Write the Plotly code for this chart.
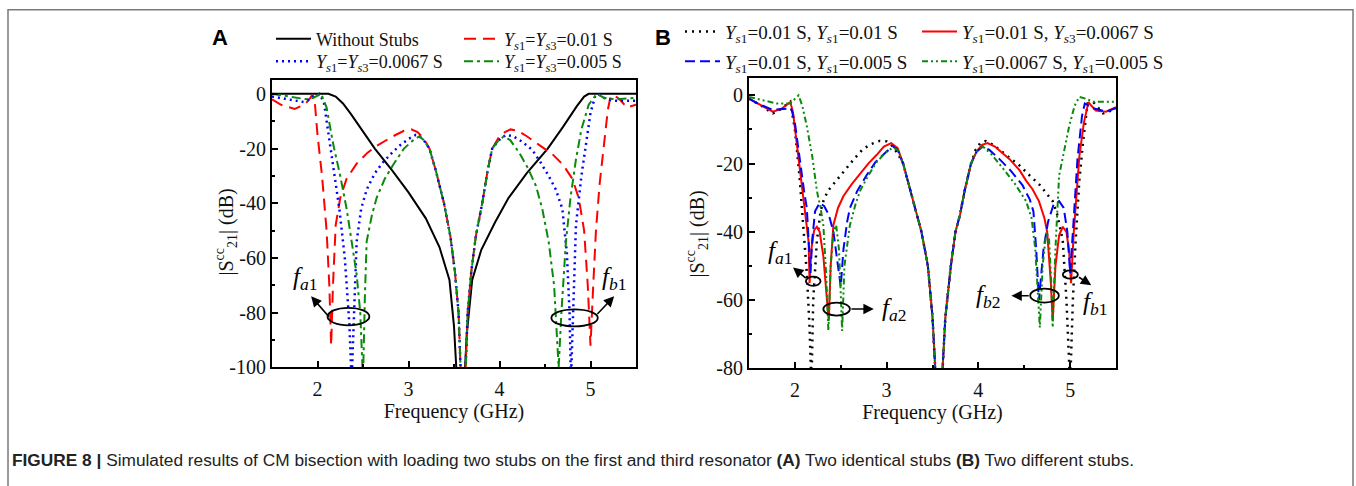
import plotly.graph_objects as go

# ---------------- Panel A data (Frequency GHz, |S21cc| dB) ----------------
a_center_f = [3.23, 3.30, 3.39, 3.46, 3.51, 3.55, 3.60, 3.65, 3.69, 3.74, 3.81, 3.87, 3.92]
a_center_db = [-20, -28, -40, -52, -65, -80, -125, -80, -65, -52, -40, -28, -20]

a_none_f = [1.5, 2.12, 2.2, 2.28, 2.37, 2.46, 2.63, 2.82, 3.0, 3.19, 3.34, 3.45, 3.5, 3.575,
            3.64, 3.7, 3.8, 3.95, 4.1, 4.3, 4.53, 4.7, 4.85, 4.93, 4.98, 5.5]
a_none_db = [0, 0, -1, -3.5, -7.5, -12, -20, -28, -36, -45.5, -56, -68, -85, -130,
             -88, -68, -57, -47, -38, -29, -20, -12, -4.5, -1, 0, 0]

a_r_left_f = [1.5, 1.6, 1.75, 1.85, 1.9, 1.94, 1.97, 2.0, 2.05, 2.1, 2.13, 2.15, 2.17, 2.2,
              2.25, 2.32, 2.43, 2.55, 2.65, 2.75, 2.83, 2.95, 3.03, 3.1, 3.16]
a_r_left_db = [-2, -4, -5.5, -4, -2.5, -0.5, -3, -15, -30, -50, -70, -92, -70, -48,
               -38, -31, -25.5, -21.5, -19, -17, -15.5, -13.5, -13, -14, -16]
a_r_right_f = [3.99, 4.06, 4.12, 4.2, 4.3, 4.45, 4.58, 4.7, 4.8, 4.87, 4.93, 4.97, 5.0,
               5.03, 5.06, 5.1, 5.15, 5.19, 5.22, 5.26, 5.32, 5.4, 5.5]
a_r_right_db = [-16, -14, -13, -13.5, -15.5, -19, -22, -26, -31, -38, -50, -70, -92,
                -70, -50, -33, -18, -6, -1, -0.5, -2, -5, -4]

a_b_left_f = [1.5, 1.7, 1.85, 1.95, 2.02, 2.07, 2.12, 2.18, 2.24, 2.3, 2.35, 2.375, 2.4,
              2.43, 2.48, 2.54, 2.63, 2.72, 2.82, 2.9, 3.0, 3.08, 3.12, 3.18]
a_b_left_db = [-1, -2, -3, -1, 0, -3, -15, -28, -42, -60, -84, -105, -80,
               -54, -42, -35, -29, -25, -21.5, -19, -16.5, -15, -15.5, -17.5]
a_b_right_f = [3.99, 4.07, 4.15, 4.25, 4.36, 4.45, 4.54, 4.62, 4.69, 4.74, 4.77, 4.785,
               4.81, 4.84, 4.9, 4.95, 5.0, 5.05, 5.08, 5.15, 5.25, 5.5]
a_b_right_db = [-17, -15, -15.5, -17.5, -20.5, -25, -30, -35, -42, -58, -80, -105,
                -80, -48, -30, -18, -7, -1, 0, -1.5, -2.5, -2.5]

a_g_left_f = [1.5, 1.7, 1.88, 1.95, 2.04, 2.1, 2.17, 2.25, 2.32, 2.38, 2.43, 2.47, 2.5,
              2.52, 2.54, 2.6, 2.65, 2.74, 2.83, 2.95, 3.05, 3.12, 3.17]
a_g_left_db = [0, -1, -2, -1.5, 0, -5, -18, -30, -42, -55, -66, -80, -105,
               -75, -54, -44, -38, -31, -26, -20, -17, -15.5, -17]
a_g_right_f = [3.99, 4.05, 4.12, 4.22, 4.31, 4.4, 4.47, 4.54, 4.6, 4.65, 4.68, 4.73,
               4.78, 4.84, 4.9, 4.98, 5.07, 5.15, 5.27, 5.5]
a_g_right_db = [-17, -15.5, -17, -21.7, -27, -33.6, -42, -54, -70, -100, -80, -54,
                -38, -24, -13, -4, 0, -1.5, -2, -1.5]

# ---------------- Panel B data ----------------
b_center_f = [3.18, 3.26, 3.33, 3.38, 3.45, 3.5, 3.53, 3.57, 3.61, 3.64, 3.7, 3.75, 3.8, 3.85, 3.92]
b_center_db = [-20, -28, -35, -40, -50, -65, -80, -100, -80, -65, -50, -40, -35, -28, -20]

b_k_left_f = [1.5, 1.6, 1.76, 1.85, 1.95, 2.0, 2.05, 2.1, 2.13, 2.16, 2.18, 2.2, 2.24, 2.28,
              2.31, 2.36, 2.42, 2.5, 2.56, 2.65, 2.74, 2.83, 2.92, 3.0, 3.05, 3.12]
b_k_left_db = [-1, -2.5, -5.3, -4, -1.9, -10, -23.5, -40, -52, -68, -85, -60, -42.6, -34,
               -31, -28, -26, -23.5, -21.5, -18.5, -15.8, -14.3, -13.4, -13.5, -14.5, -17]
b_k_right_f = [3.97, 4.02, 4.08, 4.16, 4.3, 4.45, 4.56, 4.67, 4.75, 4.81, 4.86, 4.92, 4.96,
               5.0, 5.03, 5.06, 5.1, 5.14, 5.19, 5.25, 5.3, 5.36, 5.45, 5.5]
b_k_right_db = [-16, -14, -13.4, -14.5, -17.5, -20.6, -23.5, -26.3, -29, -31, -35, -42.6, -60,
                -85, -60, -42.6, -25, -13.9, -2.4, -1.9, -3.5, -5.3, -4.5, -3.8]

b_r_left_f = [1.5, 1.6, 1.76, 1.85, 1.92, 1.95, 1.98, 2.02, 2.06, 2.09, 2.12, 2.15, 2.16,
              2.18, 2.21, 2.24, 2.27, 2.31, 2.35, 2.37, 2.39, 2.42, 2.47, 2.53, 2.62, 2.71,
              2.8, 2.89, 2.97, 3.05, 3.12]
b_r_left_db = [-1, -2.5, -4.8, -4, -2.5, -2, -5, -14, -22, -28, -35, -43, -55,
               -45, -39.5, -38.5, -40, -47, -60, -66, -50, -38, -33, -29.5, -26, -23,
               -20, -17.5, -15, -14, -15.5]
b_r_right_f = [3.98, 4.04, 4.1, 4.18, 4.27, 4.34, 4.45, 4.52, 4.59, 4.66, 4.72, 4.75, 4.79,
               4.81, 4.84, 4.88, 4.92, 4.96, 4.99, 5.01, 5.04, 5.07, 5.1, 5.15, 5.2, 5.23,
               5.28, 5.39, 5.5]
b_r_right_db = [-16.5, -14.5, -14, -15, -17, -18.7, -22, -25, -27.5, -31, -36, -40, -55,
                -66, -50, -41, -38.5, -40, -46, -55, -40, -28, -18, -8, -2, -3,
                -4.5, -4.8, -3.5]

b_b_left_f = [1.5, 1.6, 1.76, 1.88, 1.96, 2.0, 2.05, 2.1, 2.13, 2.16, 2.17, 2.19, 2.22, 2.27,
              2.32, 2.37, 2.42, 2.46, 2.5, 2.53, 2.57, 2.6, 2.68, 2.78, 2.88, 3.0, 3.07, 3.12]
b_b_left_db = [-1, -2.5, -4.3, -4, -3.8, -8, -18.7, -28, -33, -45, -52, -42, -34, -31.5,
               -32.5, -35, -40, -48, -56, -45, -37, -33, -28, -23.5, -19.5, -16.5, -15, -16]
b_b_right_f = [3.98, 4.05, 4.12, 4.23, 4.35, 4.48, 4.56, 4.6, 4.63, 4.66, 4.71, 4.76, 4.82,
               4.88, 4.93, 4.97, 5.0, 5.03, 5.08, 5.13, 5.16, 5.25, 5.39, 5.5]
b_b_right_db = [-16.5, -15, -16, -18.7, -22, -26.3, -30.5, -34, -45, -60, -45, -37, -32,
                -31, -33, -40, -52, -40, -18.7, -6, -2.4, -3.8, -4.8, -3.8]

b_g_left_f = [1.5, 1.65, 1.8, 1.95, 2.0, 2.04, 2.08, 2.13, 2.19, 2.24, 2.28, 2.31, 2.34,
              2.365, 2.39, 2.42, 2.45, 2.48, 2.5, 2.515, 2.54, 2.6, 2.66, 2.71, 2.8, 2.89,
              3.0, 3.07, 3.12]
b_g_left_db = [-0.5, -1.5, -2.4, -2.4, -1, 0, -3, -9, -18, -28, -33, -38, -52,
               -69, -50, -40, -38, -45, -58, -69, -50, -38, -32, -28, -23.5, -19.6,
               -16.5, -15.3, -16]
b_g_right_f = [3.98, 4.05, 4.15, 4.27, 4.4, 4.52, 4.58, 4.62, 4.65, 4.67, 4.7, 4.74, 4.77,
               4.795, 4.81, 4.84, 4.88, 4.94, 4.99, 5.05, 5.1, 5.17, 5.25, 5.5]
b_g_right_db = [-16.5, -15, -17.5, -21.5, -26, -31, -36, -45, -58, -68, -50, -40, -42,
                -55, -68, -45, -23.5, -15, -9, -3, -0.5, -1, -1.9, -1.9]

# ---------------- Labels ----------------
YS = "<i>Y</i><sub><i>s</i>1</sub>"
YS3 = "<i>Y</i><sub><i>s</i>3</sub>"
a_names = ["Without Stubs", YS + "=" + YS3 + "=0.01 S",
           YS + "=" + YS3 + "=0.0067 S", YS + "=" + YS3 + "=0.005 S"]
b_names = [YS + "=0.01 S, " + YS + "=0.01 S", YS + "=0.01 S, " + YS3 + "=0.0067 S",
           YS + "=0.01 S, " + YS + "=0.005 S", YS + "=0.0067 S, " + YS + "=0.005 S"]
a_ticks_y = [0, -20, -40, -60, -80, -100]
b_ticks_y = [0, -20, -40, -60, -80]
x_ticks = [2, 3, 4, 5]
caption = ("<b>FIGURE 8 |</b> Simulated results of CM bisection with loading two stubs on the first "
           "and third resonator <b>(A)</b> Two identical stubs <b>(B)</b> Two different stubs.")

RED, BLUE, GREEN, BLACK = "#ff0000", "#0000ff", "#0a8a0a", "#000000"
SERIF = "Liberation Serif"

fig = go.Figure()

def add(xs, ys, name, color, dash, xa, ya, leg, grp, w=2):
    fig.add_trace(go.Scatter(x=xs, y=ys, mode="lines", name=name, xaxis=xa, yaxis=ya,
                             legend=leg, legendgroup=grp,
                             line=dict(color=color, dash=dash, width=w)))

# Panel A: one legend per row (two entries each)
add(a_none_f, a_none_db, a_names[0], BLACK, "solid", "x", "y", "legend", "a0")
add(a_r_left_f + a_center_f + a_r_right_f, a_r_left_db + a_center_db + a_r_right_db,
    a_names[1], RED, "12px,7px", "x", "y", "legend", "a1")
add(a_b_left_f + a_center_f + a_b_right_f, a_b_left_db + a_center_db + a_b_right_db,
    a_names[2], BLUE, "2px,4px", "x", "y", "legend2", "a2", 2.5)
add(a_g_left_f + a_center_f + a_g_right_f, a_g_left_db + a_center_db + a_g_right_db,
    a_names[3], GREEN, "9px,4px,3px,4px", "x", "y", "legend2", "a3")

# Panel B: one legend per column (two entries each)
add(b_k_left_f + b_center_f + b_k_right_f, b_k_left_db + b_center_db + b_k_right_db,
    b_names[0], BLACK, "2px,5px", "x2", "y2", "legend3", "b0", 2.5)
add(b_r_left_f + b_center_f + b_r_right_f, b_r_left_db + b_center_db + b_r_right_db,
    b_names[1], RED, "solid", "x2", "y2", "legend4", "b1")
add(b_b_left_f + b_center_f + b_b_right_f, b_b_left_db + b_center_db + b_b_right_db,
    b_names[2], BLUE, "10px,5px", "x2", "y2", "legend3", "b2")
add(b_g_left_f + b_center_f + b_g_right_f, b_g_left_db + b_center_db + b_g_right_db,
    b_names[3], GREEN, "6px,3px,2px,3px,2px,3px", "x2", "y2", "legend4", "b3")

W, H = 1356, 486
def px(v): return v / W
def py(v): return 1 - v / H

axis_common = dict(showline=True, linecolor="black", linewidth=2, mirror=True,
                   ticks="inside", ticklen=6, tickwidth=1.5, tickcolor="black",
                   showgrid=False, zeroline=False,
                   tickfont=dict(family=SERIF, size=20, color="#111"))
xtitle = dict(text="Frequency (GHz)", font=dict(family=SERIF, size=20, color="#111"), standoff=4)

fig.update_layout(
    xaxis=dict(domain=[px(272), px(636)], range=[1.5, 5.5], tickvals=x_ticks,
               ticktext=[str(v) for v in x_ticks], anchor="y", ticklabelstandoff=3,
               minor=dict(ticks="inside", ticklen=3, dtick=0.5, tick0=1.5, tickcolor="black"),
               title=xtitle, **axis_common),
    yaxis=dict(domain=[py(376), py(82)], range=[-100, 5], tickvals=a_ticks_y,
               ticktext=[str(v) for v in a_ticks_y], anchor="x",
               minor=dict(ticks="inside", ticklen=3, dtick=10, tick0=0, tickcolor="black"),
               **axis_common),
    xaxis2=dict(domain=[px(749), px(1116)], range=[1.5, 5.5], tickvals=x_ticks,
                ticktext=[str(v) for v in x_ticks], anchor="y2", ticklabelstandoff=3,
                minor=dict(ticks="inside", ticklen=3, dtick=0.5, tick0=1.5, tickcolor="black"),
                title=xtitle, **axis_common),
    yaxis2=dict(domain=[py(377), py(80)], range=[-80, 5], tickvals=b_ticks_y,
                ticktext=[str(v) for v in b_ticks_y], anchor="x2",
                minor=dict(ticks="inside", ticklen=3, dtick=10, tick0=0, tickcolor="black"),
                **axis_common),
    width=W, height=H, margin=dict(l=0, r=0, t=0, b=0),
    plot_bgcolor="white", paper_bgcolor="white",
    font=dict(family=SERIF, color="#111"),
)

fa = dict(family=SERIF, size=18, color="#111")
fb = dict(family=SERIF, size=19, color="#111")
leg_h = dict(orientation="h", xanchor="left", yanchor="middle", bgcolor="rgba(0,0,0,0)",
             itemwidth=35, entrywidthmode="pixels", traceorder="normal")
leg_v = dict(orientation="v", xanchor="left", yanchor="top", bgcolor="rgba(0,0,0,0)",
             itemwidth=35, traceorder="grouped", tracegroupgap=2)
fig.update_layout(
    legend=dict(x=px(271), y=py(40), entrywidth=138, font=fa, **leg_h),
    legend2=dict(x=px(271), y=py(63), entrywidth=138, font=fa, **leg_h),
    legend3=dict(x=px(680), y=py(13), font=fb, **leg_v),
    legend4=dict(x=px(917), y=py(13), font=fb, **leg_v),
)

ann = []
# y axis titles
for xc, yc in [(226, 238), (697, 240)]:
    ann.append(dict(text="|S<sup>cc</sup><sub>21</sub>| (dB)", textangle=-90, x=px(xc), y=py(yc),
                    xref="paper", yref="paper", xanchor="center", yanchor="middle", showarrow=False,
                    font=dict(family=SERIF, size=20, color="#111")))
# panel letters
for t, xc in [("A", 220), ("B", 663)]:
    ann.append(dict(text="<b>" + t + "</b>", x=px(xc), y=py(38), xref="paper", yref="paper",
                    xanchor="center", yanchor="middle", showarrow=False,
                    font=dict(family="Liberation Sans", size=22, color="black")))
# caption
ann.append(dict(text=caption, x=px(10), y=py(471), xref="paper", yref="paper", xanchor="left",
                yanchor="middle", showarrow=False,
                font=dict(family="Liberation Sans", size=17.3, color="#222")))

# ellipse markers, arrows and labels
def fl(sub):
    return "<i>f</i><sub><i>" + sub[0] + "</i>" + sub[1] + "</sub>"

shapes = []
def ell(xr, yr, x0, x1, y0, y1):
    shapes.append(dict(type="circle", xref=xr, yref=yr, x0=x0, x1=x1, y0=y0, y1=y1,
                       line=dict(color="black", width=1.8)))

def arrow(xr, yr, hx, hy, tx, ty):
    ann.append(dict(x=hx, y=hy, ax=tx, ay=ty, xref=xr, yref=yr, axref=xr, ayref=yr, text="",
                    showarrow=True, arrowhead=2, arrowsize=1.3, arrowwidth=1.6, arrowcolor="black",
                    standoff=0, startstandoff=0))

def label(xr, yr, x, y, sub):
    ann.append(dict(x=x, y=y, xref=xr, yref=yr, text=fl(sub), showarrow=False,
                    xanchor="center", yanchor="middle",
                    font=dict(family=SERIF, size=25, color="black")))

# Panel A
ell("x", "y", 2.11, 2.57, -84.6, -78.2)
arrow("x", "y", 1.93, -74, 2.14, -82)
label("x", "y", 1.86, -67.5, "a1")
ell("x", "y", 4.57, 5.08, -85, -78.8)
arrow("x", "y", 5.26, -74, 5.06, -81)
label("x", "y", 5.26, -67.5, "b1")
# Panel B
ell("x2", "y2", 2.12, 2.28, -55.8, -53.1)
arrow("x2", "y2", 1.98, -50.4, 2.135, -53.9)
label("x2", "y2", 1.84, -46, "a1")
ell("x2", "y2", 2.31, 2.6, -64.5, -60.7)
arrow("x2", "y2", 2.86, -62.6, 2.6, -62.6)
label("x2", "y2", 3.08, -62.7, "a2")
ell("x2", "y2", 4.565, 4.877, -60.7, -56.6)
arrow("x2", "y2", 4.36, -58.7, 4.565, -58.7)
label("x2", "y2", 4.1, -59, "b2")
ell("x2", "y2", 4.92, 5.085, -53.7, -51.3)
arrow("x2", "y2", 5.23, -55.6, 5.08, -53)
label("x2", "y2", 5.27, -61, "b1")

# outer border
shapes.append(dict(type="rect", xref="paper", yref="paper", x0=px(8), x1=px(1353),
                   y0=-0.2, y1=py(10), line=dict(color="#7a7a7a", width=1.5), layer="below"))

fig.update_layout(annotations=ann, shapes=shapes)
fig.write_html("out.html")
